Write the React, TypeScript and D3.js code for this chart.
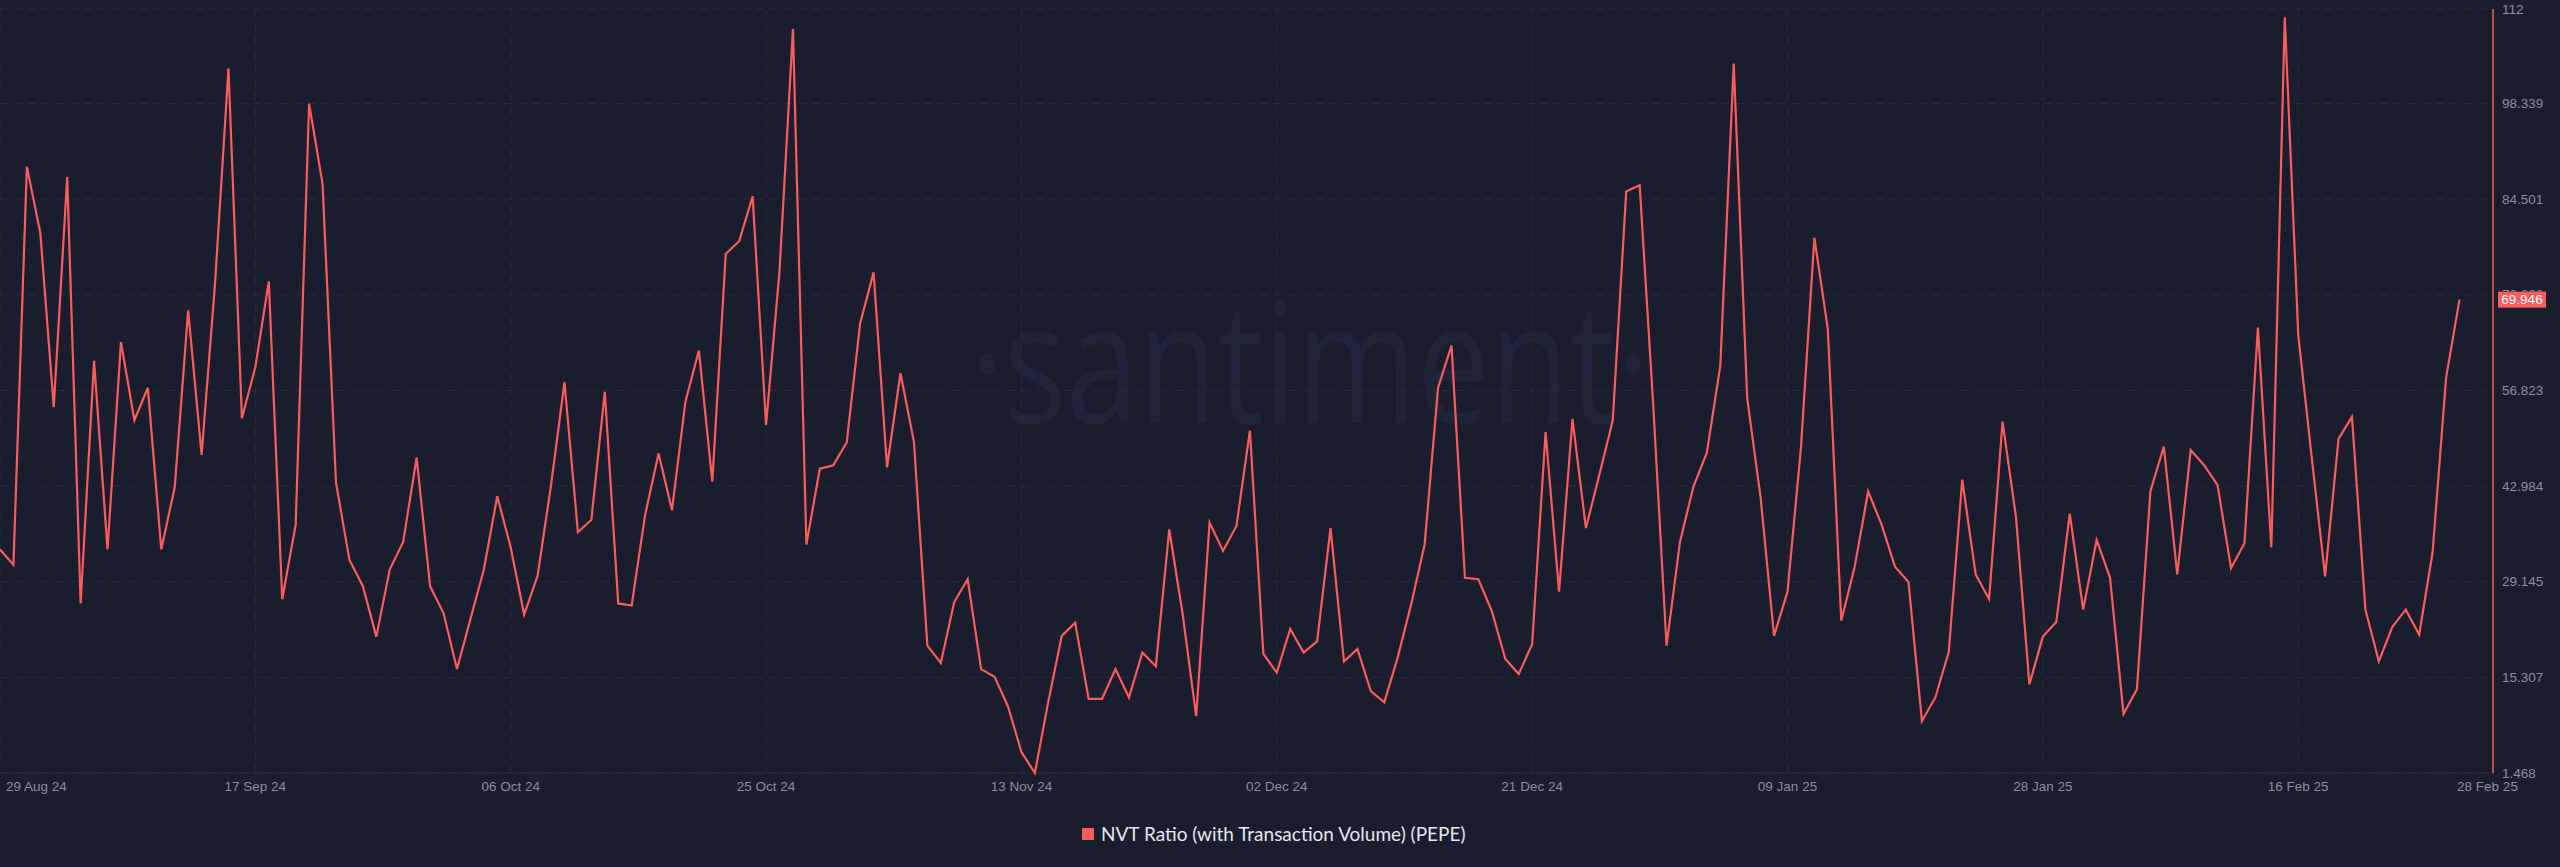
import * as d3 from "d3";

// ── Data ──────────────────────────────────────────────────────────────────────

const START_DATE = "2024-08-29";

// NVT Ratio (with Transaction Volume) (PEPE), one value per day from START_DATE
const NVT_VALUES = [
  33.8, 31.6, 89.2, 79.6, 54.4, 87.7, 26.0, 61.1, 33.8, 63.8,
  52.5, 57.2, 33.8, 42.8, 68.4, 47.5, 72.3, 103.4, 52.8, 60.2,
  72.6, 26.6, 37.4, 98.3, 86.7, 43.5, 32.3, 28.5, 21.2, 30.9,
  34.9, 47.1, 28.5, 24.6, 16.5, 23.7, 30.9, 41.5, 34.1, 24.4,
  30.0, 43.1, 58.0, 36.3, 38.1, 56.6, 26.0, 25.7, 38.8, 47.7,
  39.5, 55.2, 62.6, 43.6, 76.6, 78.4, 84.9, 51.8, 74.1, 109.1,
  34.5, 45.5, 46.0, 49.3, 66.5, 73.9, 45.7, 59.3, 49.4, 19.9,
  17.4, 26.2, 29.5, 16.5, 15.4, 11.1, 4.5, 1.468, 11.8, 21.3,
  23.2, 12.2, 12.2, 16.5, 12.4, 18.9, 16.9, 36.7, 24.4, 9.7,
  37.7, 33.6, 37.2, 51.0, 18.7, 16.0, 22.3, 18.9, 20.5, 36.9,
  17.6, 19.4, 13.3, 11.7, 18.2, 25.9, 34.5, 57.2, 63.3, 29.7,
  29.5, 24.9, 18.0, 15.8, 20.1, 50.8, 27.7, 52.7, 36.9, 44.6,
  52.5, 85.6, 86.5, 55.0, 19.9, 34.9, 42.9, 47.8, 60.4, 104.1,
  55.7, 41.3, 21.3, 27.7, 48.5, 78.9, 65.7, 23.5, 31.3, 42.2,
  37.4, 31.3, 29.1, 9.0, 12.4, 19.0, 43.9, 30.2, 26.6, 52.3,
  38.5, 14.3, 21.2, 23.3, 39.0, 25.1, 35.2, 29.7, 10.0, 13.6,
  42.2, 48.7, 30.2, 48.2, 46.0, 43.1, 31.1, 34.7, 65.9, 34.1,
  110.8, 64.9, 47.2, 29.9, 49.8, 53.0, 25.1, 17.6, 22.6, 25.1,
  21.5, 33.4, 58.6, 69.946,
];

const X_TICKS = [
  "29 Aug 24", "17 Sep 24", "06 Oct 24", "25 Oct 24", "13 Nov 24",
  "02 Dec 24", "21 Dec 24", "09 Jan 25", "28 Jan 25", "16 Feb 25",
];
const X_LAST_TICK = "28 Feb 25";

const Y_TICKS = [1.468, 15.307, 29.145, 42.984, 56.823, 70.662, 84.501, 98.339, 112];
const Y_TICK_LABELS = ["1.468", "15.307", "29.145", "42.984", "56.823", "70.662", "84.501", "98.339", "112"];

const LAST_LABEL = "69.946";
const LEGEND_LABEL = "NVT Ratio (with Transaction Volume) (PEPE)";

// ── Config ────────────────────────────────────────────────────────────────────

const WIDTH  = 2560;
const HEIGHT = 867;
const PLOT   = { left: 0, right: 2459.5, top: 9, bottom: 773, axisX: 2493 };

const BG        = "#1a1d2d";
const GRID      = "#282c3e";
const LINE      = "#f95c5c";
const TICK_TEXT = "#8a8fa3";
const AXIS_FONT = "'Liberation Sans', Arial, sans-serif";

const parseTick = d3.timeParse("%d %b %y");

// ── Component ─────────────────────────────────────────────────────────────────

const App = () => {
  const start = d3.timeParse("%Y-%m-%d")(START_DATE) as Date;
  const data = NVT_VALUES.map((v, i) => ({ date: d3.timeDay.offset(start, i), value: v }));

  const x = d3.scaleTime()
    .domain([start, data[data.length - 1].date])
    .range([PLOT.left, PLOT.right]);

  const y = d3.scaleLinear()
    .domain([Y_TICKS[0], Y_TICKS[Y_TICKS.length - 1]])
    .range([PLOT.bottom, PLOT.top]);

  const line = d3.line<{ date: Date; value: number }>()
    .x((d) => x(d.date))
    .y((d) => y(d.value));

  const tickDates = X_TICKS.map((t) => parseTick(t) as Date);
  const lastDate  = parseTick(X_LAST_TICK) as Date;
  const lastValue = NVT_VALUES[NVT_VALUES.length - 1];

  return (
    <svg
      width={WIDTH}
      height={HEIGHT}
      style={{ position: "absolute", left: 0, top: 0, display: "block" }}
    >
      <rect width={WIDTH} height={HEIGHT} fill={BG} />

      {/* watermark */}
      <text
        x={1310}
        y={423}
        textAnchor="middle"
        fontFamily="'Open Sans', sans-serif"
        fontSize={168}
        fill="#20243a"
        textLength={680}
        lengthAdjust="spacingAndGlyphs"
      >
        ·santiment·
      </text>

      {/* horizontal grid */}
      {Y_TICKS.map((t) => (
        <line
          key={`gy-${t}`}
          x1={PLOT.left}
          x2={PLOT.axisX}
          y1={y(t)}
          y2={y(t)}
          stroke={GRID}
          strokeDasharray="8,6"
        />
      ))}

      {/* vertical grid */}
      {tickDates.map((d, i) => (
        <line
          key={`gx-${i}`}
          x1={x(d)}
          x2={x(d)}
          y1={PLOT.top}
          y2={PLOT.bottom}
          stroke={GRID}
          strokeDasharray="8,6"
        />
      ))}

      {/* bottom axis line */}
      <line x1={PLOT.left} x2={PLOT.axisX} y1={PLOT.bottom} y2={PLOT.bottom} stroke={GRID} />

      {/* series */}
      <path d={line(data) ?? ""} fill="none" stroke={LINE} strokeWidth={2.2} strokeLinejoin="miter" />

      {/* right axis */}
      <line x1={PLOT.axisX} x2={PLOT.axisX} y1={PLOT.top} y2={PLOT.bottom} stroke={LINE} strokeWidth={1.5} />

      {Y_TICKS.map((t, i) => (
        <text
          key={`ty-${t}`}
          x={PLOT.axisX + 9}
          y={y(t)}
          dy="0.35em"
          fontFamily={AXIS_FONT}
          fontSize={13.5}
          fill={TICK_TEXT}
        >
          {Y_TICK_LABELS[i]}
        </text>
      ))}

      {/* last value badge */}
      <rect x={PLOT.axisX + 5} y={y(lastValue) - 8} width={48} height={16} fill={LINE} />
      <text
        x={PLOT.axisX + 29}
        y={y(lastValue)}
        dy="0.35em"
        textAnchor="middle"
        fontFamily={AXIS_FONT}
        fontSize={13.5}
        fill="#ffffff"
      >
        {LAST_LABEL}
      </text>

      {/* x tick labels */}
      {tickDates.map((d, i) => (
        <text
          key={`tx-${i}`}
          x={i === 0 ? x(d) + 6 : x(d)}
          y={PLOT.bottom + 18}
          textAnchor={i === 0 ? "start" : "middle"}
          fontFamily={AXIS_FONT}
          fontSize={13.5}
          fill={TICK_TEXT}
        >
          {X_TICKS[i]}
        </text>
      ))}
      <text
        x={x(lastDate) + 28}
        y={PLOT.bottom + 18}
        textAnchor="middle"
        fontFamily={AXIS_FONT}
        fontSize={13.5}
        fill={TICK_TEXT}
      >
        {X_LAST_TICK}
      </text>

      {/* legend */}
      <rect x={1082} y={828} width={12} height={12} fill={LINE} />
      <text
        x={1101}
        y={834}
        dy="0.35em"
        fontFamily="Lato, sans-serif"
        fontSize={19}
        fill="#e4e6ee"
      >
        {LEGEND_LABEL}
      </text>
    </svg>
  );
};

export default App;
